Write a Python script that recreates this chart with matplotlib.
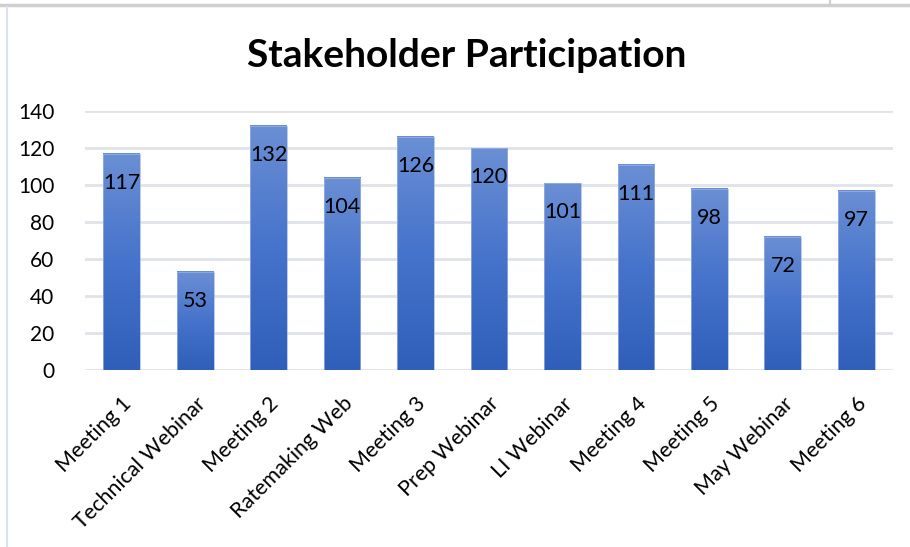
import numpy as np
import matplotlib.pyplot as plt
import matplotlib
from matplotlib.lines import Line2D
from matplotlib.colors import LinearSegmentedColormap

matplotlib.rcParams['font.family'] = ['Lato', 'DejaVu Sans']

categories = ["Meeting 1", "Technical Webinar", "Meeting 2", "Ratemaking Web",
              "Meeting 3", "Prep Webinar", "LI Webinar", "Meeting 4",
              "Meeting 5", "May Webinar", "Meeting 6"]
participants = [117, 53, 132, 104, 126, 120, 101, 111, 98, 72, 97]
yticks = [0, 20, 40, 60, 80, 100, 120, 140]

fig = plt.figure(figsize=(9.1, 5.47), dpi=100)
ax = fig.add_axes([85/910, 177/547, 808/910, (436-177)/547])

# screenshot frame lines
fig.add_artist(Line2D([0, 1], [1 - 5/547, 1 - 5/547], color="#cfcfcf", lw=2.5))
fig.add_artist(Line2D([830/910, 830/910], [1 - 4/547, 1], color="#cfcfcf", lw=1.5))
fig.add_artist(Line2D([7/910, 7/910], [0, 1 - 7/547], color="#dde3ee", lw=1.5))

cmap = LinearSegmentedColormap.from_list("bar", ["#2f5fba", "#4673cb", "#6a8fd4"])
grad = np.linspace(0, 1, 256).reshape(-1, 1)
x = np.arange(len(categories))
width = 0.5

for xi, v in zip(x, participants):
    ax.imshow(grad, cmap=cmap, origin="lower", aspect="auto",
              extent=[xi - width/2, xi + width/2, 0, v], zorder=2)
    ax.bar(xi, v, width, facecolor="none", edgecolor="#9fb5e3", lw=0.5, zorder=3)
    ax.annotate(str(v), (xi, v), xytext=(0, -29), textcoords="offset pixels",
                ha="center", va="center", fontsize=15.5, color="black", zorder=4)

ax.set_xlim(-0.5, len(categories) - 0.5)
ax.set_ylim(0, 140)
ax.set_yticks(yticks)
ax.yaxis.grid(True, color="#dfe2e8", lw=2)
ax.set_axisbelow(True)
for s in ax.spines.values():
    s.set_visible(False)
ax.tick_params(axis="both", length=0, labelsize=15)
ax.tick_params(axis="y", pad=22)
ax.set_xticks(x)
ax.set_xticklabels(categories, rotation=45, ha="right", rotation_mode="anchor",
                   fontsize=15.5)
ax.tick_params(axis="x", pad=17)

fig.text(467/910, 1 - 55/547, "Stakeholder Participation", ha="center", va="center",
         fontsize=28, fontweight="bold")

fig.savefig("out.png", dpi=100, facecolor="white")
